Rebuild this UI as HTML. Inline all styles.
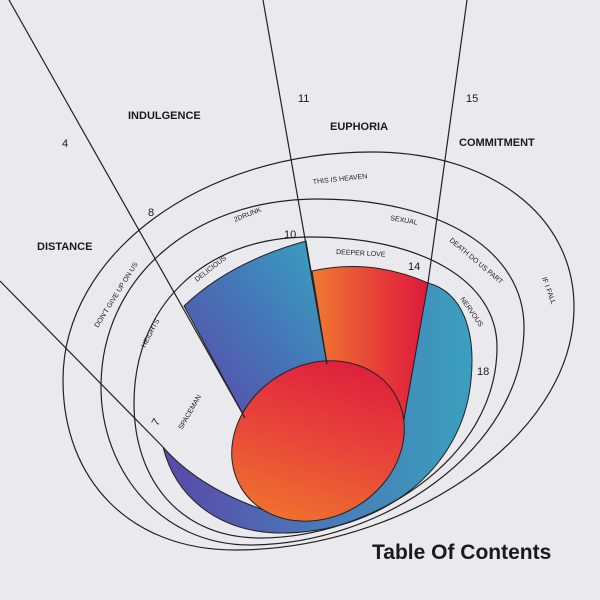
<!DOCTYPE html>
<html><head><meta charset="utf-8"><style>
html,body{margin:0;padding:0;background:#eaeaee;}
svg{display:block}
text{font-family:"Liberation Sans",sans-serif;fill:#1a1a1a}
.s{font-size:7px}
.b{font-size:11px;font-weight:bold}
.n{font-size:11px}
</style></head><body>
<svg width="600" height="600" viewBox="0 0 600 600">
<defs>
<linearGradient id="gBand" x1="0" y1="0" x2="1" y2="0">
<stop offset="0" stop-color="#5a48a8"/><stop offset="0.5" stop-color="#4a78b8"/><stop offset="1" stop-color="#3aa0be"/>
</linearGradient>
<linearGradient id="gBlue" x1="0" y1="1" x2="1" y2="0">
<stop offset="0" stop-color="#5b45a6"/><stop offset="0.55" stop-color="#4577b8"/><stop offset="1" stop-color="#36a4c0"/>
</linearGradient>
<linearGradient id="gRedS" x1="0" y1="0" x2="1" y2="0">
<stop offset="0" stop-color="#f07a30"/><stop offset="0.6" stop-color="#e63c38"/><stop offset="1" stop-color="#de1a3c"/>
</linearGradient>
<linearGradient id="gRedE" gradientUnits="userSpaceOnUse" x1="240" y1="510" x2="400" y2="370">
<stop offset="0" stop-color="#f07a2c"/><stop offset="0.5" stop-color="#e8443a"/><stop offset="1" stop-color="#dc163e"/>
</linearGradient>
</defs>
<rect width="600" height="600" fill="#eaeaee"/>

<path d="M428,283 C462,292 476,330 471,380 C463,470 380,535 275,533 C215,530 175,495 163,447 Q205,495 290,518 L402,430 Z" fill="url(#gBand)" stroke="#222" stroke-width="1"/>
<path d="M184,306 Q230,262 306,241 L327,364 L245,418 Z" fill="url(#gBlue)" stroke="#222" stroke-width="1"/>
<path d="M312,271 Q372,258 428,283 L402,430 L327,364 Z" fill="url(#gRedS)" stroke="#222" stroke-width="1"/>
<ellipse cx="318" cy="441" rx="90" ry="76" transform="rotate(-32 318 441)" fill="url(#gRedE)" stroke="#222" stroke-width="1"/>

<g fill="none" stroke="#222" stroke-width="1.2">
<path d="M63,380 C63,255 200,152 372,152 C490,152 574,215 574,307 C574,440 400,550 235,550 C130,550 63,480 63,380 Z"/>
<path d="M101,387 C101,280 190,199 318,199 C440,199 524,250 524,327 C524,450 380,545 250,545 C160,545 101,470 101,387 Z"/>
<path d="M134,403 C134,310 200,237 310,237 C420,237 497,280 497,347 C497,460 370,538 260,538 C180,538 134,480 134,403 Z"/>
<line x1="9" y1="0" x2="245" y2="418"/>
<line x1="0" y1="281" x2="163" y2="447"/>
<line x1="263" y1="0" x2="327" y2="364"/>
<line x1="467" y1="0" x2="428" y2="283"/>
</g>

<text class="n" x="62" y="147">4</text>
<text class="b" x="128" y="119">INDULGENCE</text>
<text class="n" x="298" y="102">11</text>
<text class="b" x="330" y="130">EUPHORIA</text>
<text class="n" x="466" y="102">15</text>
<text class="b" x="459" y="146">COMMITMENT</text>
<text class="n" x="148" y="216">8</text>
<text class="b" x="37" y="250">DISTANCE</text>
<text class="n" x="284" y="238">10</text>
<text class="n" x="408" y="270">14</text>
<text class="n" x="477" y="375">18</text>
<text class="n" x="152" y="425" transform="rotate(-60 156 421)">7</text>

<text class="s" x="0" y="0" transform="translate(98,328) rotate(-58)">DON'T GIVE UP ON US</text>
<text class="s" x="0" y="0" transform="translate(145,348) rotate(-62)">HEIGHTS</text>
<text class="s" x="0" y="0" transform="translate(197,282) rotate(-38)">DELICIOUS</text>
<text class="s" x="0" y="0" transform="translate(235,222) rotate(-22)">2DRUNK</text>
<text class="s" x="0" y="0" transform="translate(313,184) rotate(-6)">THIS IS HEAVEN</text>
<text class="s" x="0" y="0" transform="translate(390,220) rotate(10)">SEXUAL</text>
<text class="s" x="0" y="0" transform="translate(449,241) rotate(40)">DEATH DO US PART</text>
<text class="s" x="0" y="0" transform="translate(542,278) rotate(70)">IF I FALL</text>
<text class="s" x="0" y="0" transform="translate(460,299) rotate(55)">NERVOUS</text>
<text class="s" x="0" y="0" transform="translate(336,254) rotate(3)">DEEPER LOVE</text>
<text class="s" x="0" y="0" transform="translate(182,430) rotate(-60)">SPACEMAN</text>

<text x="372" y="559" style="font-size:21px;font-weight:bold">Table Of Contents</text>
</svg>
</body></html>
